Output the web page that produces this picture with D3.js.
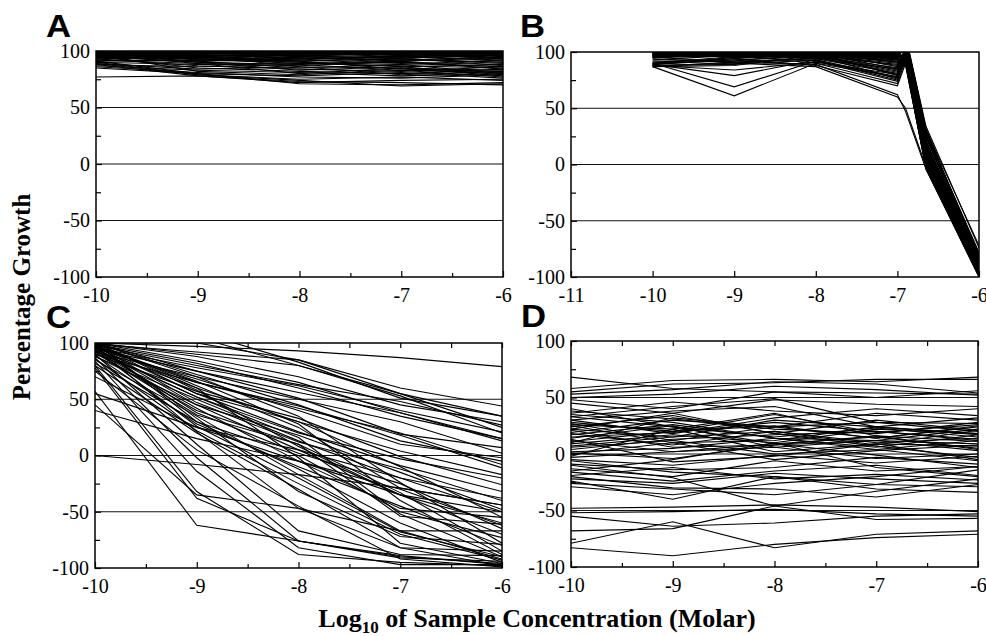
<!DOCTYPE html>
<html><head><meta charset="utf-8">
<script src="https://cdn.jsdelivr.net/npm/d3@7"></script>
<style>body{margin:0;background:#fff}svg{display:block}
.serif{font-family:"Liberation Serif","Times New Roman",Times,serif}</style>
</head><body>
<svg id="c" width="986" height="636"></svg>
<script>
// ---- data ----
const concAll = [-10, -9, -8, -7, -6];
const concB = [-10, -9, -8, -7, -6.9, -6.65, -6];
const yTicks = [100, 50, 0, -50, -100];
const yMinor = [75, 25, -25, -75];
const gridVals = [50, 0, -50];
const xTicksACD = [-10, -9, -8, -7, -6];
const xTicksB = [-11, -10, -9, -8, -7, -6];
const panelLetters = ["A", "B", "C", "D"];

const seriesA = [
[100,100,98,97,99],[99,98,96,95,97],[98,97,99,96,94],[97,99,95,94,96],[100,96,97,98,93],
[96,95,93,95,92],[95,97,94,92,95],[98,94,96,93,90],[94,93,92,96,91],[100,99,100,100,98],
[97,96,94,90,88],[93,95,91,93,89],[99,92,95,91,94],[96,94,90,88,92],[92,91,93,94,87],
[100,95,92,89,86],[95,90,88,92,90],[98,93,89,87,85],[91,92,90,86,88],[97,89,87,91,84],
[94,96,86,85,83],[100,93,91,84,82],[90,88,89,90,86],[96,91,85,88,80],[93,87,84,82,86],
[99,90,83,86,79],[88,86,88,83,81],[95,85,82,80,84],[92,89,80,85,78],[89,84,86,79,82],
[97,82,79,83,77],[87,83,81,78,80],[91,80,78,81,76],[86,81,77,76,79],[90,79,75,77,74],
[88,78,72,74,75],[85,80,71,70,72],[77,78,73,72,70],[89,79,74,69,71],[102,101,99,103,100],
[101,103,102,100,99],[103,100,101,99,101],[100,102,98,101,97],[99,101,100,102,98],[104,99,103,98,100],
[100,100,101,97,96],[98,100,97,99,100],[101,98,99,101,95],[97,101,100,96,99],[100,97,102,100,97],
[99,99,96,98,101],[102,96,98,95,98],[96,98,100,97,96],[100,101,95,99,94],[98,95,97,100,93]
];

const seriesB = [
[100,100,100,99,104,14,-90],[99,100,99,98,96,8,-88],[100,99,100,97,110,22,-92],[98,100,98,100,90,2,-85],
[100,98,99,96,106,12,-95],[97,99,100,98,113,30,-82],[100,100,97,95,88,-3,-97],[99,97,99,99,115,34,-74],
[96,98,98,94,100,11,-90],[100,99,96,97,108,20,-86],[98,96,100,93,92,0,-99],[95,100,97,99,111,26,-84],
[100,97,98,92,98,8,-93],[99,99,95,96,104,16,-88],[97,98,99,91,112,30,-80],[100,95,96,98,94,4,-96],
[96,100,100,95,107,19,-86],[100,96,97,90,97,6,-94],[98,99,98,97,114,32,-85],[95,97,96,89,101,12,-91],
[100,98,99,94,109,24,-84],[99,100,94,99,89,-2,-98],[97,96,98,88,103,14,-89],[100,100,99,96,112,28,-78],
[96,99,97,93,95,5,-95],[98,98,100,87,99,10,-92],[100,97,95,97,110,25,-86],[95,99,98,91,91,-4,-100],
[99,96,96,86,102,16,-87],[100,100,97,98,113,29,-83],[97,98,99,85,93,3,-97],[90,95,97,84,98,9,-93],
[89,93,96,83,103,18,-88],[88,90,95,82,100,13,-90],[90,92,98,80,95,7,-95],[87,91,94,81,92,2,-98],
[89,94,99,79,101,15,-89],[88,89,93,78,105,21,-85],[90,96,92,77,94,5,-96],[87,88,97,76,99,11,-92],
[88,84,91,80,90,-3,-100],[89,79,93,75,96,8,-94],[90,69,92,74,100,12,-90],[87,61,90,72,93,4,-97],
[92,92,94,85,104,17,-88],[93,97,90,78,97,10,-93],[91,94,88,70,90,1,-99],[96,90,87,60,50,-2,-96],
[94,91,89,62,47,-4,-98],[99,100,98,100,111,27,-80],[100,99,100,98,96,6,-95],[97,100,99,97,102,11,-91],
[98,97,97,99,108,20,-84],[100,98,98,96,93,3,-98],[99,99,100,95,114,31,-72]
];

const seriesC = [
[100,97,93,87,79],[100,100,85,60,44],[100,105,80,55,35],[98,80,63,48,27],[96,78,62,40,21],
[100,84,65,38,13],[95,75,51,19,7],[92,70,50,30,2],[100,72,45,13,-5],[97,65,44,18,-11],
[94,60,30,4,-17],[90,57,33,-1,-26],[99,55,21,-9,-32],[88,50,13,-20,-38],[100,62,25,-29,-44],
[96,45,5,-35,-50],[93,42,-5,-47,-55],[91,40,10,-54,-61],[85,35,-17,-67,-67],[82,30,0,-50,-73],
[100,33,-32,-72,-79],[97,21,-47,-82,-85],[90,10,-67,-88,-89],[87,-2,-76,-91,-94],[84,-14,-82,-97,-97],
[80,-32,-88,-95,-98],[78,-38,-76,-90,-96],[57,-62,-76,-89,-97],[45,-35,-47,-67,-92],[0,-8,-17,-29,-44],
[55,25,5,-20,-50],[40,15,-5,-35,-60],[100,88,70,45,30],[100,90,80,53,20],[99,82,60,35,15],
[95,68,40,10,-2],[93,52,20,-3,-20],[98,47,12,-12,-40],[100,58,8,-35,-70],[96,38,2,-25,-65],
[89,28,-10,-45,-80],[94,26,-20,-68,-90],[100,30,-12,-60,-95],[92,36,10,-33,-85],[86,22,-25,-70,-93],
[97,55,30,-10,-55],[90,65,42,20,-8],[100,75,56,38,15],[99,92,85,55,25],[80,20,-30,-82,-98],
[75,5,-45,-92,-99],[100,60,-2,-78,-96],[70,25,-5,-30,-62],[88,45,18,-15,-48],[100,110,83,51,35],
[98,66,28,-40,-88],[94,52,16,-52,-90],[100,70,35,-24,-78]
];

const seriesD = [
[68,58,55,54,53],[58,65,66,64,68],[53,57,64,62,54],[55,62,63,66,66],[50,53,60,57,52],
[48,40,55,50,56],[33,42,49,28,27],[45,36,48,44,42],[36,46,38,34,40],[30,38,42,24,32],
[28,20,35,19,26],[24,34,18,30,21],[22,15,30,24,18],[19,30,24,14,24],[33,24,15,23,15],
[27,12,24,28,20],[17,26,14,12,22],[15,19,28,20,13],[25,10,12,24,17],[11,20,25,14,25],
[18,8,20,10,14],[9,17,10,22,18],[21,6,8,16,11],[7,15,20,8,21],[14,25,6,12,9],
[4,13,17,20,12],[26,22,2,9,7],[2,5,14,6,17],[12,2,9,15,5],[6,12,0,4,12],
[1,-4,8,12,3],[0,10,-5,3,8],[-3,2,6,-4,0],[13,-7,-2,9,-5],[-5,-10,-1,-8,-2],
[-9,-14,-12,-3,-9],[-13,-20,-6,-15,-11],[-16,-24,-15,-10,-19],[-19,-12,-22,-18,-23],[-22,-26,-17,-22,-26],
[-24,-40,-20,-27,-29],[-10,-21,-46,-33,-22],[-20,-30,-31,-38,-27],[-6,-16,-20,-31,-34],[-26,-31,-36,-27,-14],
[-29,-36,-26,-20,-11],[-48,-47,-45,-47,-51],[-52,-51,-49,-53,-55],[-55,-64,-61,-55,-53],[-68,-66,-46,-58,-57],
[-83,-90,-80,-74,-71],[-79,-60,-83,-71,-68],[35,28,14,4,-6],[40,24,9,-1,-12],[-2,22,36,16,4],
[22,36,18,7,-3],[30,18,32,40,34],[10,32,24,36,30],[38,31,22,18,28],[-15,-5,10,-12,-20]
];

// ---- layout ----
const panels = [
  {id:"A", series:seriesA, conc:concAll, xd:[-10,-6], xt:xTicksACD, minorX:true, topTicks:false, box:{l:96,r:503,t:51,b:277}, lab:{x:46,y:37}},
  {id:"B", series:seriesB, conc:concB,   xd:[-11,-6], xt:xTicksB,  minorX:false, topTicks:false, box:{l:571,r:979,t:52,b:277}, lab:{x:520,y:37}},
  {id:"C", series:seriesC, conc:concAll, xd:[-10,-6], xt:xTicksACD, minorX:true, topTicks:true, box:{l:95,r:502,t:343,b:568}, lab:{x:46,y:328}},
  {id:"D", series:seriesD, conc:concAll, xd:[-10,-6], xt:xTicksACD, minorX:true, topTicks:true, box:{l:571,r:978,t:341,b:567}, lab:{x:521,y:327}}
];

const svg = d3.select("#c");
const fmt = d => (d < 0 ? "-" : "") + Math.abs(d);

function styleText(sel) {
  sel.attr("class", "serif").attr("font-family", null).style("font-size", "20px").attr("fill", "#000");
}

panels.forEach((p, i) => {
  const B = p.box;
  const x = d3.scaleLinear().domain(p.xd).range([B.l, B.r]);
  const y = d3.scaleLinear().domain([-100, 100]).range([B.b, B.t]);
  const g = svg.append("g");

  g.append("clipPath").attr("id", "clip" + p.id)
    .append("rect").attr("x", B.l).attr("y", B.t).attr("width", B.r - B.l).attr("height", B.b - B.t);

  g.selectAll("line.grid").data(gridVals).join("line").attr("class", "grid")
    .attr("x1", B.l).attr("x2", B.r).attr("y1", d => y(d)).attr("y2", d => y(d))
    .attr("stroke", "#111").attr("stroke-width", 1);

  const line = d3.line().x((d, j) => x(p.conc[j])).y(d => y(d));
  g.append("g").attr("clip-path", `url(#clip${p.id})`)
    .selectAll("path").data(p.series).join("path")
    .attr("d", line).attr("fill", "none").attr("stroke", "#000").attr("stroke-width", 1.1);

  const ax = g.append("g").attr("transform", `translate(0,${B.b})`)
    .call(d3.axisBottom(x).tickValues(p.xt).tickFormat(fmt).tickSizeInner(-6).tickSizeOuter(0).tickPadding(11));
  ax.attr("font-family", null);
  ax.select(".domain").remove();
  styleText(ax.selectAll("text"));
  ax.selectAll("line").attr("stroke", "#000").attr("stroke-width", 1.2);
  if (p.minorX) {
    const mv = d3.range(p.xd[0] + 0.5, p.xd[1], 1);
    const am = g.append("g").attr("transform", `translate(0,${B.b})`)
      .call(d3.axisBottom(x).tickValues(mv).tickFormat("").tickSizeInner(-4).tickSizeOuter(0));
    am.select(".domain").remove();
    am.selectAll("line").attr("stroke", "#000").attr("stroke-width", 1.2);
  }
  if (p.topTicks) {
    const tv = d3.range(p.xd[0], p.xd[1] + 0.01, 0.5);
    const at = g.append("g").attr("transform", `translate(0,${B.t})`)
      .call(d3.axisTop(x).tickValues(tv).tickFormat("").tickSizeInner(-5).tickSizeOuter(0));
    at.select(".domain").remove();
    at.selectAll("line").attr("stroke", "#000").attr("stroke-width", 1.2);
  }
  const ay = g.append("g").attr("transform", `translate(${B.l},0)`)
    .call(d3.axisLeft(y).tickValues(yTicks).tickFormat(fmt).tickSizeInner(-6).tickSizeOuter(0).tickPadding(6));
  ay.attr("font-family", null);
  ay.select(".domain").remove();
  styleText(ay.selectAll("text"));
  ay.selectAll("line").attr("stroke", "#000").attr("stroke-width", 1.2);
  const aym = g.append("g").attr("transform", `translate(${B.l},0)`)
    .call(d3.axisLeft(y).tickValues(yMinor).tickFormat("").tickSizeInner(-5).tickSizeOuter(0));
  aym.select(".domain").remove();
  aym.selectAll("line").attr("stroke", "#000").attr("stroke-width", 1.2);

  g.append("rect").attr("x", B.l).attr("y", B.t).attr("width", B.r - B.l).attr("height", B.b - B.t)
    .attr("fill", "none").attr("stroke", "#000").attr("stroke-width", 1.5);

  g.append("text").attr("transform", `translate(${p.lab.x},${p.lab.y}) scale(1.12,1)`).text(panelLetters[i])
    .style("font-family", "'Liberation Sans',Arial,Helvetica,sans-serif").attr("font-weight", "bold")
    .attr("font-size", 31).attr("fill", "#000");
});

svg.append("text").attr("class", "serif").attr("transform", "translate(30,297) rotate(-90)")
  .attr("text-anchor", "middle").attr("font-weight", "bold")
  .style("font-size", "25px").text("Percentage Growth");

const xt = svg.append("text").attr("class", "serif").attr("x", 537).attr("y", 627).attr("text-anchor", "middle")
  .attr("font-weight", "bold").style("font-size", "26px");
xt.append("tspan").text("Log");
xt.append("tspan").style("font-size", "17px").attr("dy", 6).text("10");
xt.append("tspan").attr("dy", -6).text(" of Sample Concentration (Molar)");
</script>
</body></html>
